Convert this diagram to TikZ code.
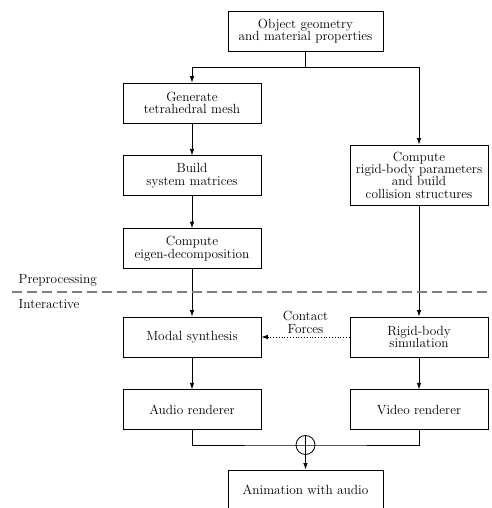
\documentclass[tikz,border=0pt]{standalone}
\usepackage{tikz}
\usetikzlibrary{shapes, arrows.meta, positioning}

\begin{document}
\begin{tikzpicture}[
  x=1pt, y=1pt,
  node distance=32pt,
  every node/.style={font=\fontsize{13.3}{12.3}\selectfont},
  block/.style={draw, rectangle, line width=0.8pt, align=center,
    minimum width=138pt, minimum height=40pt, inner sep=2pt},
  flow/.style={line width=0.8pt, -{Latex[length=6.5pt,width=4.5pt]}},
  thick]

  \useasboundingbox (0,0) rectangle (491,508);

  \node[block, minimum width=155pt](obj) at (305.5,477){Object geometry\\and material properties};
  \coordinate (split) at (305.5,441);

  % preprocessing, left column
  \node[block](gen) at (192,405){Generate\\tetrahedral mesh};
  \node[block](mat)[below=of gen]{Build\\system matrices};
  \node[block](eig)[below=of mat]{Compute\\eigen-decomposition};

  % preprocessing, right column
  \node[block, minimum height=60pt](rig) at (419,333){Compute\\rigid-body parameters\\and build\\collision structures};

  % interactive
  \node[block](modal) at (192,171){Modal synthesis};
  \node[block](audio)[below=of modal]{Audio renderer};
  \node[block](sim) at (419,171){Rigid-body\\simulation};
  \node[block](video)[below=of sim]{Video renderer};

  \node[draw, circle, line width=0.8pt, minimum size=19pt, inner sep=0pt](sum) at (305.5,63){};
  \node[block, minimum width=155pt](anim) at (305.5,18){Animation with audio};

  % split line
  \draw[line width=0.8pt] (split) -- (obj.south);
  \draw[flow] (split) -| (gen.north);
  \draw[flow] (split) -| (rig.north);

  \draw[flow] (gen) -- (mat);
  \draw[flow] (mat) -- (eig);
  \draw[flow] (eig) -- (modal);
  \draw[flow] (rig) -- (sim);
  \draw[flow] (modal) -- (audio);
  \draw[flow] (sim) -- (video);

  \draw[flow, dotted] (sim.west) -- (modal.east)
    node[midway, above=0pt, align=center]{Contact\\Forces};

  % adder
  \draw[line width=0.8pt] (audio.south) |- (sum.west) -- (sum.east) -| (video.south);
  \draw[flow] (sum.north) -- (anim.north);

  % phase separator
  \coordinate (sepL) at (12,216);
  \coordinate (sepR) at (491,216);
  \draw[gray, line width=1.2pt, dash pattern=on 10pt off 5pt] (sepL) -- (sepR);
  \node[anchor=west](pre) at (15,228){Preprocessing};
  \node[anchor=west](int) at (15,204){Interactive};
\end{tikzpicture}
\end{document}
